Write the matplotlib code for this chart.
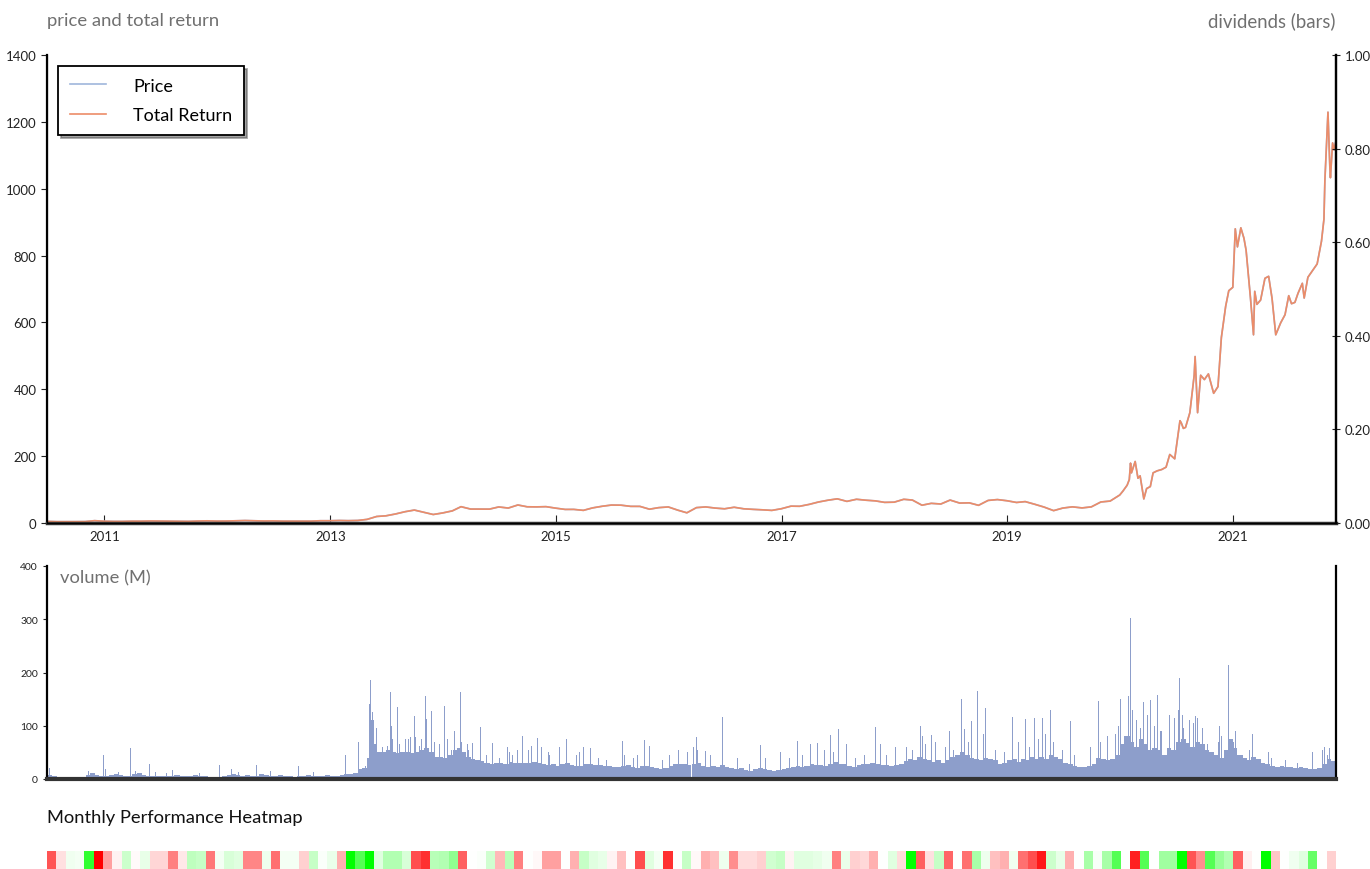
import numpy as np
import pandas as pd
import matplotlib
matplotlib.use("Agg")
import matplotlib.pyplot as plt
import matplotlib.dates as mdates
from matplotlib.colors import LinearSegmentedColormap
from matplotlib.ticker import FormatStrFormatter

plt.rcParams['font.family'] = ['Lato', 'DejaVu Sans']

X_START = "2010-06-29"
X_END = "2021-11-30"
year_ticks = ["2011", "2013", "2015", "2017", "2019", "2021"]

# month-end closes, Jun 2010 .. Dec 2019 (split adjusted)
price_monthly = [
    4.8, 4.0, 3.9, 4.1, 4.3, 7.0, 5.3,
    4.8, 4.8, 5.5, 5.5, 6.1, 5.8, 5.6, 4.9, 4.9, 5.9, 6.5, 5.7,
    5.9, 6.7, 7.4, 6.6, 6.0, 6.3, 5.6, 5.7, 5.9, 5.6, 6.8, 6.8,
    7.5, 7.0, 7.6, 10.8, 19.5, 21.5, 27.0, 33.8, 38.7, 32.0, 25.4, 30.1,
    36.3, 48.8, 41.7, 41.6, 41.5, 48.0, 44.7, 53.9, 48.5, 48.2, 48.9, 44.5,
    40.6, 40.7, 37.8, 45.2, 50.1, 53.7, 53.3, 49.8, 49.7, 41.3, 46.0, 48.0,
    38.3, 30.5, 46.0, 48.1, 44.6, 42.5, 47.1, 42.5, 40.8, 39.4, 37.7, 42.7,
    50.4, 50.0, 55.7, 62.8, 68.2, 72.3, 64.7, 71.0, 68.2, 66.2, 61.7, 62.3,
    70.9, 68.6, 53.2, 58.8, 56.8, 68.6, 59.6, 60.3, 52.9, 67.5, 70.1, 66.6,
    61.4, 64.0, 56.0, 47.7, 37.0, 44.7, 48.3, 45.1, 48.2, 62.9, 65.6, 83.7,
]

price_recent_dates = [
    "2020-01-10", "2020-01-24", "2020-01-31", "2020-02-04", "2020-02-07", "2020-02-19",
    "2020-02-28", "2020-03-06", "2020-03-18", "2020-03-27", "2020-04-08", "2020-04-17",
    "2020-04-30", "2020-05-15", "2020-05-29", "2020-06-10", "2020-06-26", "2020-07-13",
    "2020-07-17", "2020-07-24", "2020-07-31", "2020-08-14", "2020-08-28", "2020-08-31",
    "2020-09-08", "2020-09-18", "2020-09-30", "2020-10-13", "2020-10-30", "2020-11-13",
    "2020-11-24", "2020-12-08", "2020-12-18", "2020-12-31", "2021-01-08", "2021-01-15",
    "2021-01-26", "2021-02-05", "2021-02-12", "2021-02-26", "2021-03-05", "2021-03-08",
    "2021-03-12", "2021-03-19", "2021-03-31", "2021-04-14", "2021-04-26", "2021-05-07",
    "2021-05-19", "2021-06-04", "2021-06-18", "2021-06-30", "2021-07-09", "2021-07-20",
    "2021-07-30", "2021-08-13", "2021-08-19", "2021-08-31", "2021-09-15", "2021-09-30",
    "2021-10-14", "2021-10-22", "2021-10-25", "2021-11-04", "2021-11-10", "2021-11-12",
    "2021-11-19", "2021-11-24", "2021-11-30",
]
price_recent = [
    95, 113, 130, 179, 150, 184,
    134, 141, 72, 103, 109, 150,
    156, 160, 167, 205, 192, 306,
    300, 283, 286, 330, 442, 498,
    330, 442, 429, 446, 388, 408,
    555, 649, 695, 705, 880, 826,
    883, 852, 816, 675, 597, 563,
    693, 654, 667, 732, 738, 672,
    563, 599, 623, 680, 656, 660,
    687, 717, 673, 735, 755, 775,
    843, 909, 1024, 1229, 1067, 1033,
    1137, 1116, 1144,
]

# semi-monthly typical volume (M), Jul 2010 .. Nov 2021
volume_base = [
    8, 5, 4, 3, 3, 3, 3, 4, 8, 12, 7, 5,
    6, 8, 9, 7, 5, 6, 9, 11, 8, 6, 5, 6, 5, 6, 6, 8, 6, 5, 5, 7, 6, 5, 4, 4,
    4, 5, 7, 9, 8, 6, 7, 6, 5, 10, 8, 6, 5, 7, 6, 5, 4, 5, 6, 7, 5, 5, 6, 7,
    6, 5, 7, 9, 10, 12, 18, 20, 40, 65, 50, 50, 55, 50, 48, 50, 50, 48, 50, 55, 58, 50, 42, 42,
    40, 45, 55, 58, 50, 42, 38, 36, 33, 30, 28, 30, 30, 28, 32, 30, 30, 30, 30, 32, 30, 28, 26, 28,
    25, 28, 30, 26, 24, 25, 28, 28, 26, 26, 24, 25, 22, 22, 24, 26, 22, 20, 24, 25, 22, 20, 18, 20,
    25, 28, 28, 28, 26, 28, 30, 25, 22, 25, 22, 26, 22, 20, 18, 20, 16, 15, 18, 20, 18, 16, 15, 17,
    18, 20, 22, 25, 22, 25, 28, 26, 26, 25, 28, 32, 28, 28, 25, 22, 26, 28, 28, 30, 28, 27, 26, 24,
    26, 28, 33, 38, 35, 42, 38, 35, 32, 35, 30, 35, 42, 46, 50, 45, 40, 38, 35, 40, 38, 35, 28, 30,
    35, 38, 32, 38, 35, 42, 38, 42, 38, 45, 42, 38, 30, 28, 25, 22, 22, 25, 28, 40, 38, 35, 38, 45,
    65, 80, 70, 60, 75, 65, 55, 58, 55, 45, 58, 55, 70, 75, 68, 60, 70, 65, 55, 50, 45, 40, 55, 75,
    58, 45, 40, 35, 42, 38, 30, 28, 25, 22, 25, 22, 22, 20, 22, 20, 18, 18, 20, 28, 38, 33,
]

# individual high-volume days (M)
spike_dates = [
    "2010-06-29", "2010-06-30", "2010-07-01", "2010-07-02", "2010-07-06", "2010-11-10",
    "2010-12-28", "2011-01-05", "2011-02-14", "2011-03-25", "2011-04-11", "2011-05-26",
    "2011-06-15", "2011-07-20", "2011-08-10", "2011-11-04", "2012-01-09", "2012-02-15",
    "2012-03-09", "2012-05-08", "2012-06-20", "2012-09-20", "2012-11-06", "2013-02-20",
    "2013-04-01", "2013-04-25", "2013-05-09", "2013-05-10", "2013-05-14", "2013-05-17",
    "2013-05-22", "2013-07-15", "2013-07-17", "2013-08-05", "2013-08-08", "2013-08-21",
    "2013-09-10", "2013-09-30", "2013-10-03", "2013-11-05", "2013-11-07", "2013-11-26",
    "2013-12-05", "2014-01-07", "2014-01-15", "2014-02-25", "2014-02-27", "2014-03-20",
    "2014-05-01", "2014-06-10", "2014-07-28", "2014-08-05", "2014-09-15", "2014-11-04",
    "2014-12-10", "2015-02-05", "2015-03-30", "2015-04-22", "2015-05-20", "2015-08-05",
    "2015-10-14", "2015-10-30", "2016-02-10", "2016-03-31", "2016-04-05", "2016-06-22",
    "2016-08-10", "2016-10-25", "2017-02-22", "2017-04-03", "2017-04-28", "2017-06-07",
    "2017-07-05", "2017-07-31", "2017-11-01", "2017-11-16", "2018-01-04", "2018-02-08",
    "2018-03-27", "2018-04-02", "2018-05-02", "2018-06-07", "2018-06-28", "2018-08-07",
    "2018-08-17", "2018-09-07", "2018-09-28", "2018-10-24", "2019-01-17", "2019-02-28",
    "2019-03-29", "2019-04-25", "2019-05-20", "2019-07-25", "2019-10-24", "2019-11-22",
    "2020-01-03", "2020-01-30", "2020-02-03", "2020-02-04", "2020-02-05", "2020-03-16",
    "2020-04-08", "2020-04-30", "2020-05-15", "2020-06-10", "2020-07-07", "2020-07-13",
    "2020-07-22", "2020-08-31", "2020-09-08", "2020-09-23", "2020-11-17", "2020-12-18",
    "2021-01-08", "2021-03-05", "2021-04-26", "2021-10-25", "2021-11-09",
    # medium days
    "2013-05-20", "2013-05-30", "2013-06-20", "2013-07-05", "2013-07-22", "2013-08-14",
    "2013-09-02", "2013-09-17", "2013-10-17", "2013-10-24", "2013-12-20", "2014-01-27",
    "2014-02-07", "2014-03-03", "2014-03-25", "2014-04-07", "2014-05-22", "2014-07-01",
    "2014-08-14", "2014-08-29", "2014-10-06", "2014-10-13", "2014-11-17", "2014-12-09",
    "2015-01-12", "2015-03-09", "2015-03-19", "2015-05-18", "2015-06-15", "2015-08-12",
    "2015-09-09", "2015-09-23", "2015-12-11", "2016-01-05", "2016-02-02", "2016-03-03",
    "2016-03-22", "2016-04-29", "2016-05-16", "2016-09-20", "2016-11-10", "2016-12-28",
    "2017-01-27", "2017-03-10", "2017-05-18", "2017-06-19", "2017-08-28", "2017-09-26",
    "2017-12-06", "2018-02-28", "2018-04-12", "2018-05-15", "2018-06-14", "2018-07-12",
    "2018-08-27", "2018-10-15", "2018-11-23", "2018-12-24", "2019-02-06", "2019-03-15",
    "2019-04-12", "2019-05-06", "2019-05-30", "2019-06-28", "2019-08-08", "2019-09-27",
    "2019-10-30", "2019-12-16", "2019-12-27", "2020-02-10", "2020-02-24", "2020-03-06",
    "2020-03-30", "2020-04-20", "2020-05-12", "2020-06-01", "2020-06-24", "2020-07-24",
    "2020-08-12", "2020-08-26", "2020-09-03", "2020-10-09", "2020-11-14", "2020-11-25",
    "2021-01-01", "2021-02-24", "2021-03-29", "2021-05-05", "2021-06-21", "2021-07-27",
    "2021-09-16", "2021-10-17", "2021-11-03",
]
spike_values = [
    40, 38, 35, 25, 20, 15,
    45, 18, 13, 58, 15, 28,
    14, 12, 16, 12, 27, 18,
    14, 26, 15, 25, 14, 45,
    70, 25, 140, 185, 110, 125,
    95, 163, 100, 135, 90, 120,
    75, 118, 78, 155, 113, 128,
    70, 137, 75, 163, 90, 65,
    98, 67, 60, 50, 80, 77,
    45, 76, 60, 58, 40, 72,
    73, 62, 70, 78, 55, 117,
    40, 63, 72, 65, 67, 82,
    93, 65, 97, 66, 60, 60,
    100, 80, 82, 107, 91, 151,
    93, 109, 165, 133, 117, 112,
    115, 115, 129, 109, 146, 81,
    150, 155, 230, 303, 170, 145,
    148, 157, 90, 120, 130, 190,
    120, 118, 115, 95, 100, 215,
    90, 85, 50, 60, 58,
    110, 95, 60, 62, 75, 65,
    75, 78, 62, 75, 65, 55,
    90, 70, 55, 68, 45, 40,
    45, 55, 55, 62, 60, 50,
    60, 45, 50, 40, 35, 45,
    40, 45, 35, 45, 55, 50,
    60, 53, 45, 28, 40, 50,
    40, 45, 55, 50, 40, 45,
    45, 55, 65, 70, 60, 55,
    70, 85, 55, 50, 70, 60,
    75, 85, 70, 55, 45, 60,
    70, 85, 100, 130, 110, 95,
    120, 100, 90, 80, 115, 95,
    110, 105, 60, 65, 70, 80,
    70, 55, 45, 40, 35, 30,
    50, 55, 45,
]

# monthly performance, Jun 2010 .. Nov 2021 (scaled -1 .. 1)
monthly_perf = [
    -0.67, -0.12, 0.06, 0.04, 0.8, -1.0, -0.37, -0.05, 0.2, -0.02,
    0.09, -0.16, -0.16, -0.5, -0.09, 0.25, 0.22, -0.53, 0.04, 0.15,
    0.12, -0.47, -0.47, 0.07, -0.56, 0.04, 0.04, -0.18, 0.22, 0.02,
    0.08, -0.31, 1.0, 0.67, 1.0, 0.12, 0.3, 0.3, 0.15, -0.69,
    -0.81, 0.28, 0.3, 0.43, -0.62, 0.0, 0.02, 0.18, -0.28, 0.28,
    -0.5, 0.0, -0.03, -0.37, -0.37, 0.0, -0.31, 0.22, 0.12, 0.09,
    -0.04, -0.25, 0.0, -0.69, 0.12, 0.04, -0.81, 0.0, 0.22, -0.03,
    -0.31, -0.25, 0.07, -0.44, -0.14, -0.14, -0.18, 0.18, 0.22, -0.04,
    0.12, 0.12, 0.1, 0.06, -0.5, 0.08, -0.18, -0.15, -0.31, 0.0,
    0.12, -0.14, 1.0, -0.62, -0.12, 0.22, -0.6, 0.0, -0.56, 0.34,
    0.07, -0.25, -0.31, 0.06, -0.56, -0.69, -0.9, 0.2, 0.09, -0.31,
    0.0, 0.34, 0.03, 0.34, 0.67, 0.0, -0.87, 0.67, 0.0, 0.37,
    0.37, 1.0, -0.67, -0.44, 0.67, 0.4, 0.3, -0.62, -0.06, 0.0,
    1.0, -0.22, 0.0, 0.06, 0.12, 0.6, 0.0, -0.18,
]

price_dates = list(pd.date_range("2010-06-30", periods=len(price_monthly), freq="ME")) + \
    list(pd.to_datetime(price_recent_dates))
price = price_monthly + price_recent
total_return = list(price)

fig = plt.figure(figsize=(13.7, 8.7), dpi=100)
W, H = 1370.0, 870.0

def box(x0, y0, x1, y1):
    return [x0 / W, 1 - y1 / H, (x1 - x0) / W, (y1 - y0) / H]

xmin = mdates.date2num(pd.Timestamp(X_START))
xmax = mdates.date2num(pd.Timestamp(X_END))

# ---- price panel
ax = fig.add_axes(box(47, 56, 1336, 524))
ax.plot(price_dates, price, color="#9fb6dc", lw=1.2, label="Price")
ax.plot(price_dates, total_return, color="#ec8c68", lw=1.2, label="Total Return")
ax.set_xlim(xmin, xmax)
ax.set_ylim(0, 1400)
ax.set_yticks(np.arange(0, 1401, 200))
ax.set_xticks(mdates.date2num(pd.to_datetime(year_ticks)))
ax.set_xticklabels(year_ticks)
ax.spines["top"].set_visible(False)
ax.spines["left"].set_linewidth(1.6)
ax.spines["right"].set_linewidth(1.6)
ax.spines["bottom"].set_linewidth(2.5)
ax.spines["bottom"].set_color("#333333")
ax.tick_params(axis="x", direction="in", length=6, labelsize=9.5, colors="#222222", pad=5)
ax.tick_params(axis="y", direction="out", length=4, labelsize=9.5, colors="#222222")

leg = ax.legend(loc="upper left", bbox_to_anchor=(0.0085, 0.977), borderaxespad=0,
                fontsize=13, frameon=True, fancybox=False, shadow=True,
                handlelength=2.0, handletextpad=1.5, labelspacing=0.75,
                borderpad=0.65)
leg.get_frame().set_edgecolor("black")
leg.get_frame().set_linewidth(1.3)

ax2 = ax.twinx()
ax2.set_ylim(0, 1)
ax2.set_yticks(np.arange(0, 1.01, 0.2))
ax2.yaxis.set_major_formatter(FormatStrFormatter("%.2f"))
ax2.spines["top"].set_visible(False)
ax2.spines["right"].set_linewidth(1.6)
ax2.tick_params(axis="y", direction="inout", length=6, labelsize=9.5, colors="#222222")

fig.text(47 / W, 1 - 21 / H, "price and total return", fontsize=13.3, color="#707070", va="center")
fig.text(1336 / W, 1 - 21 / H, "dividends (bars)", fontsize=13.4, color="#707070",
         va="center", ha="right")

# ---- volume panel
axv = fig.add_axes(box(47, 567, 1336, 780))
base_dates = pd.date_range("2010-07-01", periods=len(volume_base), freq="SMS")
base_x = mdates.date2num(base_dates)
edges = np.append(base_x, mdates.date2num(pd.Timestamp("2021-12-01")))
axv.bar(base_x, volume_base, width=np.diff(edges), align="edge",
        color="#8d9ecb", linewidth=0)
axv.bar(pd.to_datetime(spike_dates), spike_values, width=3.2,
        color="#8d9ecb", linewidth=0)
axv.set_xlim(xmin, xmax)
axv.set_ylim(0, 400)
axv.set_yticks(np.arange(0, 401, 100))
axv.set_xticks([])
axv.spines["top"].set_visible(False)
axv.spines["left"].set_linewidth(1.6)
axv.spines["right"].set_linewidth(1.6)
axv.spines["bottom"].set_linewidth(3)
axv.spines["bottom"].set_color("#333333")
axv.tick_params(axis="y", direction="out", length=3, labelsize=7.5, colors="#222222")
axv.text(0.01, 0.948, "volume (M)", transform=axv.transAxes, fontsize=13.2,
         color="#707070", va="center")

# ---- heatmap
fig.text(47 / W, 1 - 818 / H, "Monthly Performance Heatmap", fontsize=13.2,
         color="#111111", va="center")
axh = fig.add_axes(box(47, 852, 1336, 878))
cmap = LinearSegmentedColormap.from_list("perf", ["#ff0000", "#ffffff", "#00ff00"])
axh.imshow(np.array(monthly_perf).reshape(1, -1), aspect="auto", cmap=cmap,
           vmin=-1, vmax=1, interpolation="nearest")
axh.axis("off")

fig.savefig("out.png", dpi=100)
